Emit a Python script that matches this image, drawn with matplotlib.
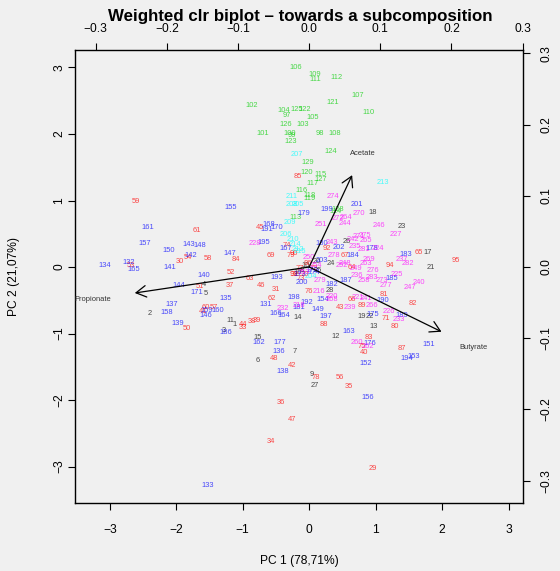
import matplotlib
matplotlib.use('Agg')
import matplotlib.pyplot as plt

plt.rcParams['font.family'] = ['Liberation Sans', 'DejaVu Sans']

# ---------------- data (PC scores of samples, by group) ----------------
lab_black = [1, 2, 3, 4, 5, 6, 7, 8, 9, 10, 11, 12, 13, 14, 15, 16, 17, 18, 19, 20,
             21, 22, 23, 24, 25, 26, 27, 28]
pc1_black = [-1.12, -2.40, -1.28, -1.58, -1.56, -0.77, -0.22, -0.11, 0.04, -0.05,
             -1.18, 0.40, 0.97, -0.18, -0.77, -0.17, 1.79, 0.96, 0.79, 0.11,
             1.83, 0.91, 1.40, 0.33, 0.13, 0.56, 0.09, 0.31]
pc2_black = [-0.86, -0.70, -0.96, -0.27, -0.40, -1.41, -1.27, -0.05, -1.62, 0.02,
             -0.81, -1.05, -0.89, -0.76, -1.06, -0.08, 0.22, 0.82, -0.74, 0.08,
             0.00, -0.74, 0.61, 0.06, -0.05, 0.39, -1.78, -0.35]

lab_red = [29, 30, 31, 32, 33, 34, 35, 36, 37, 38, 39, 40, 41, 42, 43, 44, 45, 46, 47, 48,
           50, 51, 52, 53, 54, 56, 57, 58, 59, 60, 61, 62, 63, 64, 65, 66, 67, 69, 70, 71,
           72, 73, 74, 75, 76, 77, 78, 79, 80, 81, 82, 83, 84, 85, 86, 87, 88, 89, 90, 92,
           93, 94, 95]
pc1_red = [0.96, -1.94, -0.50, -0.22, -0.99, -0.57, 0.59, -0.43, -1.19, -0.86, -0.79, 0.83,
           -1.60, -0.26, 0.46, -1.00, -0.74, -0.72, -0.25, -0.53,
           -1.84, -1.64, -1.18, -2.68, -1.82, 0.47, -1.43, -1.52, -2.61, -1.55, -1.69, -0.56,
           -0.89, 0.64, 1.65, 0.64, 0.54, -0.57, -0.06, 1.15,
           0.07, -0.12, -0.34, 0.79, 0.00, -0.14, 0.10, -0.27, 1.29, 1.13, 1.56, 0.90, -1.11,
           -0.17, -0.02, 1.40, 0.22, 0.80, -0.23, 0.27,
           -0.23, 1.22, 2.21]
pc2_red = [-3.03, 0.09, -0.34, -0.12, -0.91, -2.62, -1.80, -2.03, -0.28, -0.82, -0.81, -1.29,
           -0.67, -1.48, -0.61, -0.87, 0.59, -0.28, -2.29, -1.37,
           -0.92, -0.29, -0.08, 0.03, 0.15, -1.66, -0.61, 0.13, 0.98, -0.61, 0.55, -0.48,
           -0.18, -0.01, 0.22, -0.49, 0.17, 0.18, -0.12, -0.77,
           -0.02, -0.18, 0.32, -1.20, -0.37, -0.02, -1.66, 0.18, -0.90, -0.41, -0.55, -1.06,
           0.12, 1.36, 0.06, -1.22, -0.86, -0.58, 0.21, 0.28,
           -0.12, 0.02, 0.10]

lab_green = [97, 98, 99, 100, 101, 102, 103, 104, 105, 106, 107, 108, 109, 110, 111, 112,
             113, 114, 115, 116, 117, 118, 119, 120, 121, 122, 123, 124, 125, 126, 127,
             128, 129]
pc1_green = [-0.34, 0.16, -0.26, -0.29, -0.70, -0.86, -0.09, -0.38, 0.06, -0.20, 0.73, 0.38,
             0.08, 0.89, 0.10, 0.41, -0.21, 0.40, 0.17, -0.12, 0.05, 0.01, 0.01, -0.03,
             0.36, -0.06, -0.28, 0.32, -0.19, -0.35, 0.18, 0.43, -0.02]
pc2_green = [2.28, 2.00, 1.97, 2.01, 2.01, 2.43, 2.15, 2.35, 2.25, 3.00, 2.58, 2.00,
             2.89, 2.33, 2.82, 2.85, 0.75, 0.84, 1.39, 1.15, 1.26, 1.07, 1.03, 1.42,
             2.48, 2.37, 1.89, 1.74, 2.37, 2.15, 1.32, 0.87, 1.57]

lab_blue = [131, 132, 133, 134, 135, 136, 137, 138, 139, 140, 141, 142, 143, 144, 146, 147,
            148, 149, 150, 151, 152, 153, 154, 155, 156, 157, 158, 159, 160, 161, 162, 163,
            164, 165, 166, 167, 168, 170, 171, 172, 173, 174, 175, 176, 177, 178, 179, 180,
            181, 182, 183, 184, 185, 186, 187, 189, 190, 191, 192, 193, 194, 195, 197, 198,
            199, 200, 201, 202, 203]
pc1_blue = [-0.65, -2.71, -1.52, -3.08, -1.25, -0.45, -2.06, -0.39, -1.97, -1.59, -2.09,
            -1.78, -1.81, -1.96, -1.56, -1.20,
            -1.65, 0.13, -2.11, 1.80, 0.85, 1.57, 0.20, -1.18, 0.88, -2.48, -2.15, -1.54,
            -1.37, -2.43, -0.76, 0.60,
            -0.38, -2.64, -0.50, -0.35, -0.60, -0.49, -1.69, 0.04, -0.14, 0.07, 0.96, 0.92,
            -0.44, 0.94, -0.08, 0.19,
            -0.15, 0.34, 1.46, 0.66, 1.24, -1.26, 0.55, 1.40, 1.10, -0.63, -0.04, -0.48,
            1.47, -0.68, 0.25, -0.23,
            0.26, -0.11, 0.72, 0.44, 0.19]
pc2_blue = [-0.56, 0.07, -3.29, 0.02, -0.48, -1.27, -0.56, -1.57, -0.85, -0.13, 0.00,
            0.18, 0.34, -0.28, -0.73, 0.21,
            0.33, -0.64, 0.25, -1.16, -1.45, -1.34, -0.49, 0.90, -1.96, 0.36, -0.68, -0.66,
            -0.66, 0.60, -1.14, -0.97,
            -0.73, -0.03, -0.70, 0.28, 0.64, 0.59, -0.39, -0.06, -0.11, -0.09, -0.71, -1.15,
            -1.14, 0.28, 0.80, 0.35,
            -0.61, -0.27, 0.19, 0.17, -0.18, -0.98, -0.20, -0.73, -0.50, 0.57, -0.53, -0.16,
            -1.37, 0.37, -0.75, -0.46,
            0.86, -0.24, 0.94, 0.30, 0.10]

lab_cyan = [204, 205, 206, 207, 208, 209, 210, 211, 212, 213, 214, 215]
pc1_cyan = [0.03, -0.17, -0.35, -0.18, -0.26, -0.29, -0.25, -0.26, -0.17, 1.11, -0.21, -0.14]
pc2_cyan = [-0.14, 0.94, 0.49, 1.69, 0.94, 0.67, 0.42, 1.06, 0.26, 1.27, 0.34, 0.24]

lab_mag = [216, 218, 220, 221, 224, 225, 226, 227, 228, 232, 233, 235, 236, 237, 239, 240,
           241, 242, 243, 244, 246, 247, 248, 249, 250, 251, 252, 253, 254, 258, 260, 262,
           263, 264, 265, 266, 268, 269, 270, 271, 272, 273, 274, 275, 276, 277, 278, 279,
           281, 282, 283]
pc1_mag = [0.15, -0.15, 0.34, 0.74, 1.04, 1.32, 1.20, 1.30, -0.82, -0.39, 1.35, 0.69, 0.72,
           1.40, 0.61, 1.65,
           0.86, 0.66, 0.34, 0.54, 1.05, 1.51, 0.54, 0.70, 0.00, 0.18, 0.49, -0.08, 0.10,
           0.82, 0.72, 0.89,
           0.86, 0.56, 0.86, 0.94, 0.34, 0.90, 0.75, 0.75, 0.44, 1.09, 0.36, 0.84, 0.96,
           1.16, 0.37, 0.16,
           0.83, 1.49, 0.95]
pc2_mag = [-0.37, -0.58, -0.44, -0.46, 0.28, -0.11, -0.67, 0.49, 0.35, -0.63, -0.79, 0.31,
           -0.13, 0.12, -0.61, -0.23,
           -0.47, 0.42, 0.37, 0.66, 0.62, -0.31, 0.06, -0.02, 0.14, 0.64, 0.02, -0.08, 0.02,
           -0.20, -1.13, -1.20,
           0.06, 0.75, 0.40, -0.58, -0.49, 0.12, 0.80, 0.46, 0.73, -0.20, 1.06, 0.47, -0.05,
           -0.28, 0.18, -0.20,
           0.27, 0.06, -0.16]

# variable loadings (secondary axes)
var_names = ['Acetate', 'Propionate', 'Butyrate']
load1 = [0.0604, -0.245, 0.186]
load2 = [0.129, -0.0365, -0.0909]

title = 'Weighted clr biplot \u2013 towards a subcomposition'
xlab = 'PC 1 (78,71%)'
ylab = 'PC 2 (21,07%)'

# ---------------- drawing ----------------
BG = '#F0F0F0'
fig = plt.figure(figsize=(5.6, 5.71), dpi=100, facecolor=BG)
W, H = 560.0, 571.0
L, R, T, B = 75.0, 523.0, 50.0, 503.3
pos = [L / W, (H - B) / H, (R - L) / W, (B - T) / H]

ax = fig.add_axes(pos, facecolor=BG)
xlim = (-3.523, 3.2175)
ylim = (-3.553, 3.263)
ax.set_xlim(*xlim)
ax.set_ylim(*ylim)
ax.set_xticks(range(-3, 4))
ax.set_yticks(range(-3, 4))

groups = [
    (lab_black, pc1_black, pc2_black, 'black'),
    (lab_red, pc1_red, pc2_red, 'red'),
    (lab_green, pc1_green, pc2_green, '#00CD00'),
    (lab_blue, pc1_blue, pc2_blue, 'blue'),
    (lab_cyan, pc1_cyan, pc2_cyan, 'cyan'),
    (lab_mag, pc1_mag, pc2_mag, 'magenta'),
]
for labs, xs, ys, col in groups:
    for l, x, y in zip(labs, xs, ys):
        ax.text(x, y, str(l), color=col, alpha=0.7, fontsize=5.4,
                ha='center', va='center', clip_on=True)

tick_fs = 8.64
ax.tick_params(axis='x', direction='out', length=5, width=0.8, pad=10.0,
               labelsize=tick_fs, colors='black')
ax.tick_params(axis='y', direction='out', length=5, width=0.8, pad=2.0,
               labelsize=tick_fs, colors='black')
for lab in ax.get_yticklabels():
    lab.set_rotation(90)
    lab.set_va('center')
for sp in ax.spines.values():
    sp.set_linewidth(1.0)

# secondary axes for loadings
ratio = 66.5 / 712.0
ax2 = fig.add_axes(pos, facecolor='none', frameon=False)
ax2.set_xlim(xlim[0] * ratio, xlim[1] * ratio)
ax2.set_ylim(ylim[0] * ratio, ylim[1] * ratio)
ax2.xaxis.tick_top()
ax2.yaxis.tick_right()
ticks2 = [-0.3, -0.2, -0.1, 0.0, 0.1, 0.2, 0.3]
ax2.set_xticks(ticks2)
ax2.set_yticks(ticks2)
lbl2 = [('%.1f' % t).replace('-', '\u2212') for t in ticks2]
ax2.set_xticklabels(lbl2)
ax2.set_yticklabels(lbl2)
ax2.tick_params(axis='x', direction='out', length=5, width=0.8, pad=6.0,
                labelsize=tick_fs)
ax2.tick_params(axis='y', direction='out', length=5, width=0.8, pad=7.5,
                labelsize=tick_fs)
for lab in ax2.get_yticklabels():
    lab.set_rotation(90)
    lab.set_va('center')

for name, a1, a2 in zip(var_names, load1, load2):
    ax2.annotate('', xy=(a1, a2), xytext=(0, 0),
                 arrowprops=dict(arrowstyle='->,head_length=0.4,head_width=0.23',
                                 lw=0.9, color='black', mutation_scale=18,
                                 shrinkA=0, shrinkB=0))
    ax2.text(a1 * 1.24, a2 * 1.24, name, color='#333333', fontsize=5.4,
             ha='center', va='center')

fig.text(300 / W, 1 - 17 / H, title, ha='center', va='center',
         fontsize=12.2, fontweight='bold')
fig.text((L + R) / 2 / W, 1 - 561 / H, xlab, ha='center', va='center', fontsize=tick_fs)
fig.text(14 / W, 1 - (T + B) / 2 / H, ylab, ha='center', va='center', rotation=90,
         fontsize=tick_fs)

fig.savefig('out.png', dpi=100, facecolor=BG)
